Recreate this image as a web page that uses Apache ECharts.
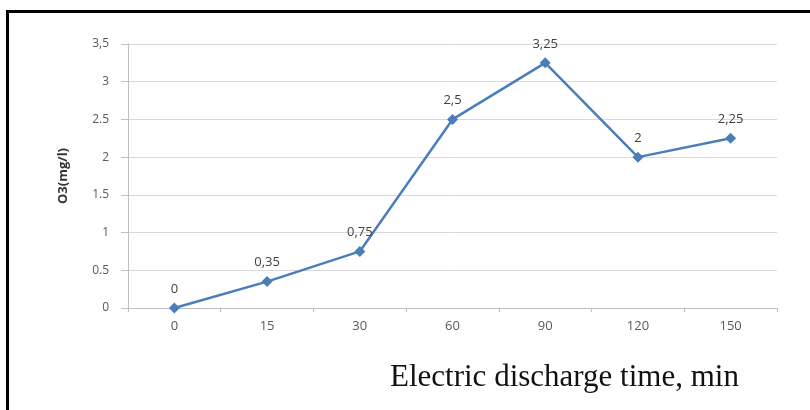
<!DOCTYPE html>
<html>
<head>
<meta charset="utf-8">
<script src="https://cdn.jsdelivr.net/npm/echarts@6/dist/echarts.min.js"></script>
<style>
  html, body { margin: 0; padding: 0; background: #fff; }
  #chart { width: 810px; height: 410px; }
</style>
</head>
<body>
<div id="chart"></div>
<script>
// Discharge time categories (min) and measured ozone concentration (mg/l)
const times = ['0', '15', '30', '60', '90', '120', '150'];
const ozone = [0, 0.35, 0.75, 2.5, 3.25, 2, 2.25];
const pointLabels = ['0', '0,35', '0,75', '2,5', '3,25', '2', '2,25'];
const yTickLabels = { '0': '0', '0.5': '0.5', '1': '1', '1.5': '1.5', '2': '2', '2.5': '2.5', '3': '3', '3.5': '3,5' };

const chart = echarts.init(document.getElementById('chart'));
chart.setOption({
  animation: false,
  backgroundColor: '#ffffff',
  grid: { left: 128, right: 33, top: 44, bottom: 102 },
  xAxis: {
    type: 'category',
    data: times,
    boundaryGap: true,
    axisLine: { lineStyle: { color: '#bfbfbf', width: 1 } },
    axisTick: { show: true, length: 4, lineStyle: { color: '#bfbfbf' } },
    axisLabel: { color: '#595959', fontFamily: 'Open Sans', fontSize: 13, margin: 12 },
    splitLine: { show: false }
  },
  yAxis: {
    type: 'value',
    min: 0,
    max: 3.5,
    interval: 0.5,
    name: 'O3(mg/l)',
    nameLocation: 'middle',
    nameRotate: 90,
    nameGap: 58,
    nameTextStyle: { color: '#333', fontFamily: 'Open Sans', fontSize: 13, fontWeight: 'bold' },
    axisLine: { show: true, lineStyle: { color: '#bfbfbf', width: 1 } },
    axisTick: { show: true, length: 7, inside: false, lineStyle: { color: '#bfbfbf' } },
    axisLabel: {
      color: '#595959', fontFamily: 'Open Sans', fontSize: 12, margin: 19,
      formatter: v => yTickLabels[String(v)] ?? String(v)
    },
    splitLine: { lineStyle: { color: '#d9d9d9', width: 1 } }
  },
  series: [{
    type: 'line',
    data: ozone,
    symbol: 'diamond',
    symbolSize: 11,
    lineStyle: { color: '#4a7ebb', width: 2.5 },
    itemStyle: { color: '#4a7ebb' },
    label: {
      show: true,
      position: 'top',
      distance: 7,
      color: '#404040',
      fontFamily: 'Open Sans',
      fontSize: 13,
      formatter: p => pointLabels[p.dataIndex]
    }
  }],
  graphic: [
    {
      type: 'polyline',
      shape: { points: [[7.5, 420], [7.5, 11.5], [820, 11.5]] },
      style: { stroke: '#000', lineWidth: 3, fill: null }
    },
    {
      type: 'text',
      left: 390,
      top: 362,
      style: {
        text: 'Electric discharge time, min',
        font: '31px "Liberation Serif", "Times New Roman", serif',
        fill: '#111'
      }
    }
  ]
});
</script>
</body>
</html>
